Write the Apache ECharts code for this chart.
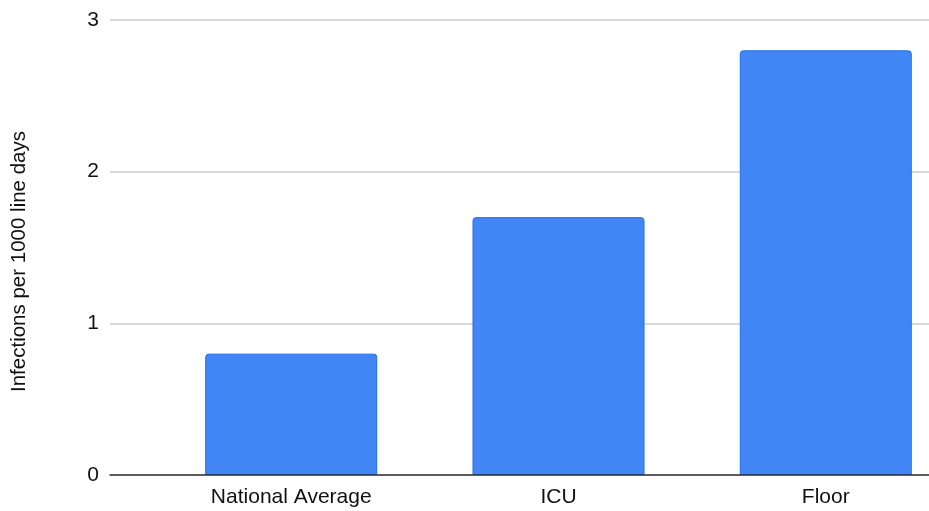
<!DOCTYPE html>
<html>
<head>
<meta charset="utf-8">
<script src="https://cdn.jsdelivr.net/npm/echarts@6/dist/echarts.min.js"></script>
<style>
html,body{margin:0;padding:0;background:#fff;}
#chart{width:929px;height:511px;}
</style>
</head>
<body>
<div id="chart"></div>
<script>
const categories = ["National Average", "ICU", "Floor"];
const infectionRates = [0.8, 1.7, 2.8];
const yTicks = [0, 1, 2, 3];
const yAxisTitle = "Infections per 1000 line days";

const chart = echarts.init(document.getElementById('chart'), null, {renderer: 'canvas'});
const font = 'Liberation Sans, Arial, sans-serif';
chart.setOption({
  animation: false,
  backgroundColor: '#ffffff',
  grid: [
    {left: 110, right: 0, top: 20, bottom: 36, outerBoundsMode: 'none'},
    {left: 157.6, width: 801.8, top: 20, bottom: 36, outerBoundsMode: 'none'}
  ],
  xAxis: [
    {
      type: 'category', gridIndex: 0, data: categories, z: 10,
      axisLine: {show: true, lineStyle: {color: '#333333', width: 1.5}},
      axisTick: {show: false}, axisLabel: {show: false}, splitLine: {show: false}
    },
    {
      type: 'category', gridIndex: 1, data: categories,
      axisLine: {show: false}, axisTick: {show: false},
      axisLabel: {color: '#111111', fontSize: 21, fontFamily: font, margin: 12}
    }
  ],
  yAxis: [
    {
      type: 'value', gridIndex: 0, min: yTicks[0], max: yTicks[yTicks.length - 1], interval: 1,
      name: yAxisTitle, nameLocation: 'middle', nameGap: 80,
      nameTextStyle: {color: '#111111', fontSize: 20.5, fontFamily: font, padding: [0, 28, 0, 0]},
      axisLine: {show: false}, axisTick: {show: false},
      axisLabel: {color: '#111111', fontSize: 21, fontFamily: font, margin: 11},
      splitLine: {show: true, lineStyle: {color: '#cccccc', width: 1.5}}
    },
    {
      type: 'value', gridIndex: 1, min: yTicks[0], max: yTicks[yTicks.length - 1], interval: 1,
      show: false, splitLine: {show: false}
    }
  ],
  series: [{
    type: 'bar', xAxisIndex: 1, yAxisIndex: 1,
    data: infectionRates, barWidth: 172,
    itemStyle: {color: '#4285f4', borderColor: '#1c6ef0', borderWidth: 1, borderRadius: [3, 3, 0, 0]}
  }]
});
</script>
</body>
</html>
